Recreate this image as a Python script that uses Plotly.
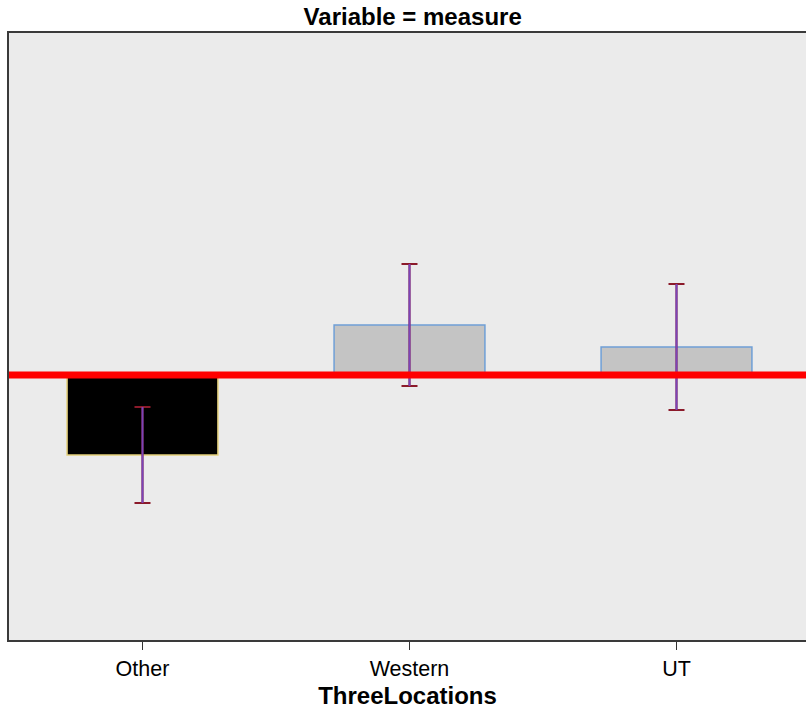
import plotly.graph_objects as go

categories = ["Other", "Western", "UT"]
means = [-0.80, 0.50, 0.28]
errors = [0.48, 0.61, 0.63]
ref_value = 0.0
fill_colors = ["#000000", "#c4c4c4", "#c4c4c4"]
edge_colors = ["#e3cf7a", "#6f9fd6", "#6f9fd6"]

fig = go.Figure()
fig.add_trace(go.Bar(
    x=categories, y=means, width=0.565,
    marker=dict(color=fill_colors, line=dict(color=edge_colors, width=1.5)),
    showlegend=False, hoverinfo="skip",
))
# caps
fig.add_trace(go.Scatter(
    x=categories, y=means, mode="markers", marker=dict(size=0.1, opacity=0),
    error_y=dict(type="data", array=errors, visible=True, color="#8b1a2a", thickness=2, width=8),
    showlegend=False, hoverinfo="skip",
))
# stems
fig.add_trace(go.Scatter(
    x=categories, y=means, mode="markers", marker=dict(size=0.1, opacity=0),
    error_y=dict(type="data", array=errors, visible=True, color="#7a44b8", thickness=2, width=0),
    showlegend=False, hoverinfo="skip",
))

fig.add_shape(type="line", xref="paper", yref="y", x0=0, x1=1, y0=ref_value, y1=ref_value,
              line=dict(color="#ff0000", width=7), layer="above")

fig.update_layout(
    width=806, height=711,
    margin=dict(l=9, r=0, t=33, b=71),
    paper_bgcolor="white", plot_bgcolor="#ebebeb",
    font=dict(family="Liberation Sans, Arial, sans-serif", color="#000000"),
    title=dict(text="<b>Variable = measure</b>", x=0.512, xanchor="center",
               yref="container", y=1 - 17 / 711, yanchor="middle",
               font=dict(size=24)),
)
fig.update_xaxes(
    range=[-0.5, 2.485], showgrid=False, zeroline=False,
    showline=True, linecolor="#3a3a3a", linewidth=2, mirror=True,
    ticks="outside", ticklen=8, tickcolor="#333333", tickwidth=1,
    tickfont=dict(size=21.5),
    title=dict(text="<b>ThreeLocations</b>", font=dict(size=24), standoff=7),
)
fig.update_yaxes(
    range=[-2.65, 3.42], showgrid=False, zeroline=False, showticklabels=False,
    showline=True, linecolor="#3a3a3a", linewidth=2, ticks="",
)

fig.write_html("out.html", config={"displayModeBar": False},
               post_script="document.body.style.margin='0';document.body.style.overflow='hidden';")
